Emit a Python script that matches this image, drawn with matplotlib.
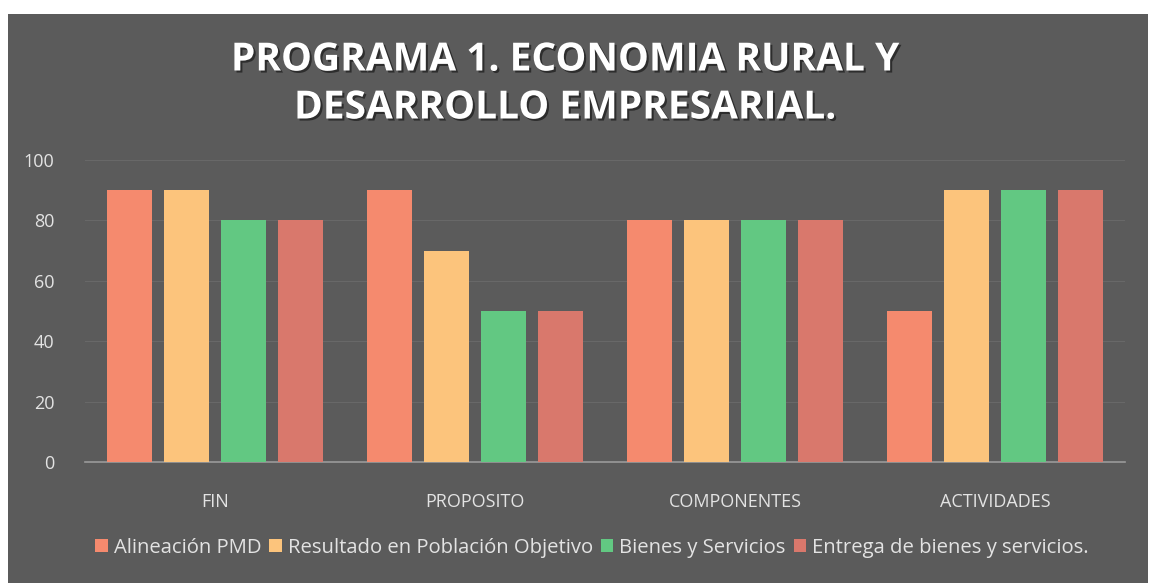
import matplotlib
matplotlib.use("Agg")
import matplotlib.pyplot as plt
import matplotlib.patheffects as pe
import numpy as np

categories = ["FIN", "PROPOSITO", "COMPONENTES", "ACTIVIDADES"]
series_names = ["Alineación PMD", "Resultado en Población Objetivo",
                "Bienes y Servicios", "Entrega de bienes y servicios."]
alineacion = [90, 90, 80, 50]
resultado = [90, 70, 80, 90]
bienes = [80, 50, 80, 90]
entrega = [80, 50, 80, 90]
yticks = [0, 20, 40, 60, 80, 100]

colors = ["#F58A6E", "#FCC47C", "#62C882", "#D9786C"]
bg = "#5B5B5B"
txt = "#E3E3E3"

plt.rcParams['font.family'] = ['Open Sans', 'DejaVu Sans']

W, H = 1152, 583
fig = plt.figure(figsize=(W/100, H/100), dpi=100, facecolor="white")
# gray panel
fig.patches.append(plt.Rectangle((8/W, 0), (W-12)/W, (H-14)/H, transform=fig.transFigure,
                                 facecolor=bg, edgecolor="none", zorder=-10))

ax = fig.add_axes([85/W, 1-462/H, (1125-85)/W, (462-160)/H])
ax.set_facecolor("none")
ax.set_zorder(5)

data = [alineacion, resultado, bienes, entrega]
x = np.arange(len(categories))
pitch = 0.219
width = 0.175
for i, (vals, c, name) in enumerate(zip(data, colors, series_names)):
    ax.bar(x + (i - 1.5) * pitch, vals, width=width, color=c, label=name, zorder=3)

ax.set_xlim(-0.5, 3.5)
ax.set_ylim(0, 100)
ax.set_yticks(yticks)
ax.set_xticks(x)
ax.set_xticklabels(categories)
ax.tick_params(axis='both', length=0, colors=txt, labelsize=13)
ax.tick_params(axis='x', pad=22)
ax.tick_params(axis='y', pad=22)
ax.grid(axis='y', color="#686868", linewidth=0.8, zorder=0)
for s in ["top", "right", "left"]:
    ax.spines[s].set_visible(False)
ax.spines["bottom"].set_color("#9A9A9A")
ax.spines["bottom"].set_linewidth(1.2)

fig.text(565/W, 1-84/H, "PROGRAMA 1. ECONOMIA RURAL Y\nDESARROLLO EMPRESARIAL.",
         ha="center", va="center", color="white", fontsize=28, fontweight="bold",
         linespacing=1.3, zorder=6,
         path_effects=[pe.withSimplePatchShadow(offset=(1.5, -1.5), shadow_rgbFace="#222222", alpha=0.8)])

leg = fig.legend(loc="center", bbox_to_anchor=(592/W, 1-548/H), ncol=4, frameon=False,
                 fontsize=14.6, labelcolor=txt, handlelength=0.6, handleheight=0.6,
                 handletextpad=0.3, columnspacing=0.4)

fig.savefig("out.png", dpi=100, facecolor=fig.get_facecolor())
